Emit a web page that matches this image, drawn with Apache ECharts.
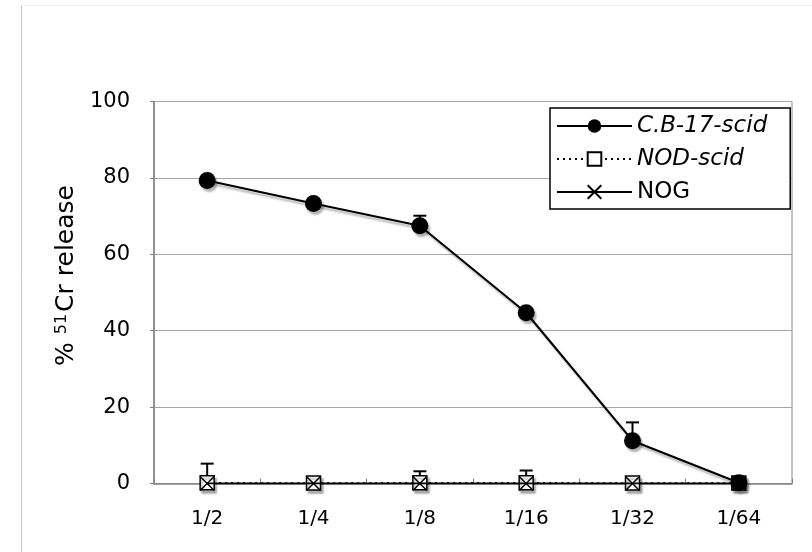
<!DOCTYPE html>
<html>
<head>
<meta charset="utf-8">
<script src="https://cdn.jsdelivr.net/npm/echarts@6/dist/echarts.min.js"></script>
<style>html,body{margin:0;padding:0;background:#fff}#c{width:812px;height:552px}</style>
</head>
<body>
<div id="c"></div>
<script>
var categories = ['1/2', '1/4', '1/8', '1/16', '1/32', '1/64'];
var cbScid = [79.3, 73.3, 67.5, 44.7, 11.2, 0.2];
var cbScidErr = [0.5, 0.6, 2.6, 0.6, 4.8, 0.3];
var nodScid = [0.2, 0.1, 0.2, 0.2, 0.1, 0.1];
var nodScidErr = [5.0, 0.3, 3.0, 3.2, 0.3, 0.2];
var nog = [0, 0, 0, 0, 0, 0];
var nogErr = [0.3, 0.3, 0.3, 0.3, 0.3, 0.2];
var yTicks = [0, 20, 40, 60, 80, 100];

var FONT = 'DejaVu Sans';
var shadow = { shadowColor: 'rgba(0,0,0,0.3)', shadowOffsetX: 2, shadowOffsetY: 3, shadowBlur: 2 };

function errSeries(vals, errs, z) {
  return {
    type: 'custom',
    z: z,
    silent: true,
    data: vals.map(function (v, i) { return [i, v, v + errs[i]]; }),
    renderItem: function (params, api) {
      var p0 = api.coord([api.value(0), api.value(1)]);
      var p1 = api.coord([api.value(0), api.value(2)]);
      var w = 6.5;
      return {
        type: 'group',
        children: [
          { type: 'line', shape: { x1: p0[0], y1: p0[1], x2: p1[0], y2: p1[1] }, style: { stroke: '#000', lineWidth: 2 } },
          { type: 'line', shape: { x1: p1[0] - w, y1: p1[1], x2: p1[0] + w, y2: p1[1] }, style: { stroke: '#000', lineWidth: 2 } }
        ]
      };
    }
  };
}

var chart = echarts.init(document.getElementById('c'), null, { renderer: 'canvas' });
chart.setOption({
  animation: false,
  backgroundColor: '#fff',
  textStyle: { fontFamily: FONT },
  grid: { left: 154, right: 20, top: 101.5, bottom: 68.5, show: true, borderColor: '#8c8c8c', borderWidth: 1 },
  graphic: [
    { type: 'line', shape: { x1: 21.5, y1: 5.5, x2: 812, y2: 5.5 }, style: { stroke: '#eeeeee', lineWidth: 1 } },
    { type: 'line', shape: { x1: 21.5, y1: 5.5, x2: 21.5, y2: 552 }, style: { stroke: '#c8c8c8', lineWidth: 1 } }
  ],
  legend: {
    orient: 'vertical',
    left: 550,
    top: 108,
    itemWidth: 75,
    itemHeight: 17,
    itemGap: 9,
    padding: [6, 23, 5, 6],
    borderColor: '#000',
    borderWidth: 1.5,
    backgroundColor: '#fff',
    data: ['C.B-17-scid', 'NOD-scid', 'NOG'],
    formatter: function (name) { return name === 'NOG' ? name : '{i|' + name + '}'; },
    textStyle: {
      fontFamily: FONT, fontSize: 23, color: '#000', lineHeight: 24,
      rich: { i: { fontStyle: 'italic', fontFamily: FONT, fontSize: 23, color: '#000', lineHeight: 24 } }
    }
  },
  xAxis: {
    type: 'category',
    data: categories,
    boundaryGap: true,
    axisLine: { lineStyle: { color: '#808080', width: 1.5 } },
    axisTick: { show: true, inside: true, length: 5, lineStyle: { color: '#808080' } },
    axisLabel: { fontFamily: FONT, fontSize: 20, color: '#000', margin: 25 }
  },
  yAxis: {
    type: 'value',
    min: 0, max: 100, interval: 20,
    name: '% {sup|51}Cr release',
    nameLocation: 'middle',
    nameGap: 70,
    nameRotate: 90,
    nameTextStyle: {
      fontFamily: FONT, fontSize: 25, color: '#000', padding: [0, 0, 0, 34],
      rich: { sup: { fontFamily: FONT, fontSize: 16, color: '#000', verticalAlign: 'top', padding: [0, 2, 9, 0] } }
    },
    axisLine: { show: true, lineStyle: { color: '#808080', width: 1.5 } },
    axisTick: { show: true, length: 4, lineStyle: { color: '#808080' } },
    axisLabel: {
      fontFamily: FONT, fontSize: 21, color: '#000', margin: 24,
      formatter: function (v) { return yTicks.indexOf(v) >= 0 ? String(v) : ''; }
    },
    splitLine: { lineStyle: { color: '#a6a6a6', width: 1 } }
  },
  series: [
    errSeries(nodScid, nodScidErr, 2),
    errSeries(nog, nogErr, 2),
    errSeries(cbScid, cbScidErr, 2),
    {
      name: 'NOD-scid', type: 'line', z: 3, data: nodScid,
      symbol: 'rect', symbolSize: 14,
      lineStyle: Object.assign({ color: '#000', width: 1.5, type: [2, 4] }, shadow),
      itemStyle: Object.assign({ color: '#fff', borderColor: '#000', borderWidth: 1.5 }, shadow)
    },
    {
      name: 'NOG', type: 'line', z: 4, data: nog,
      symbol: 'path://M0,0L10,10M10,0L0,10', symbolSize: 14,
      lineStyle: Object.assign({ color: '#000', width: 2 }, shadow),
      itemStyle: { color: 'rgba(0,0,0,0)', borderColor: '#000', borderWidth: 1.5 }
    },
    {
      name: 'C.B-17-scid', type: 'line', z: 5, data: cbScid,
      symbol: 'circle', symbolSize: 17,
      lineStyle: Object.assign({ color: '#000', width: 2 }, shadow),
      itemStyle: Object.assign({ color: '#000', borderColor: '#000', borderWidth: 0 }, shadow)
    }
  ]
});
</script>
</body>
</html>
